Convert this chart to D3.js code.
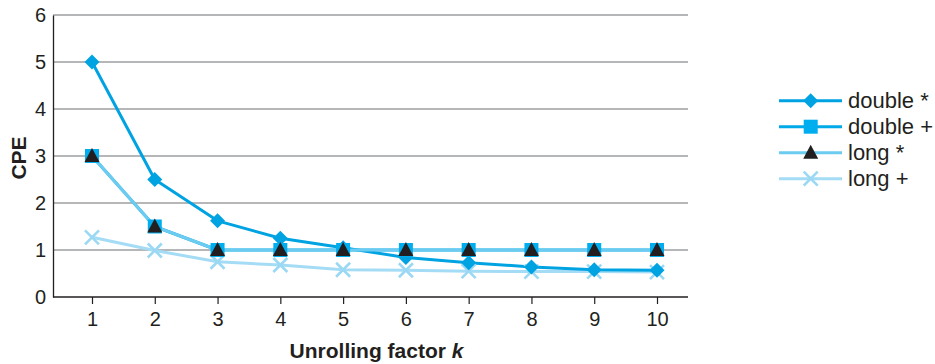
<!DOCTYPE html>
<html><head><meta charset="utf-8">
<script src="https://cdn.jsdelivr.net/npm/d3@7"></script>
<style>body{margin:0;background:#fff}svg{display:block}text{font-family:"Liberation Sans",Arial,sans-serif;fill:#231f20}</style>
</head><body><svg id="c" width="935" height="364"></svg>
<script>
const categories = [1,2,3,4,5,6,7,8,9,10];
const doubleMul = [5.0, 2.5, 1.62, 1.25, 1.05, 0.84, 0.73, 0.64, 0.58, 0.57];
const doubleAdd = [3.0, 1.5, 1.0, 1.0, 1.0, 1.0, 1.0, 1.0, 1.0, 1.0];
const longMul   = [3.0, 1.5, 1.0, 1.0, 1.0, 1.0, 1.0, 1.0, 1.0, 1.0];
const longAdd   = [1.27, 0.99, 0.75, 0.68, 0.58, 0.57, 0.55, 0.54, 0.54, 0.53];
const yTicks = [0,1,2,3,4,5,6];
const seriesNames = ["double *","double +","long *","long +"];

const series = [
  {name:seriesNames[0], values:doubleMul, line:"#00a3e2", marker:"diamond", mcolor:"#00a3e2"},
  {name:seriesNames[1], values:doubleAdd, line:"#00a9e8", marker:"square", mcolor:"#00aeef"},
  {name:seriesNames[2], values:longMul, line:"#6ccbf0", marker:"triangle", mcolor:"#231f20"},
  {name:seriesNames[3], values:longAdd, line:"#a5dcf5", marker:"cross", mcolor:"#9ad8f4"}
];

const svg = d3.select("#c");
const pL = 53, pR = 688, pT = 15, pB = 297;
const x = d3.scaleLinear().domain([1,10]).range([92,657]);
const y = d3.scaleLinear().domain([0,6]).range([pB, pT]);
const FONT = "Liberation Sans, Arial, sans-serif";

// gridlines
svg.append("g").selectAll("line").data(yTicks.filter(d=>d>0)).join("line")
  .attr("x1", pL).attr("x2", pR).attr("y1", d=>y(d)).attr("y2", d=>y(d))
  .attr("stroke", "#6d6e70").attr("stroke-width", 1);

// y axis
const ya = svg.append("g").attr("transform", `translate(${pL},0)`)
  .call(d3.axisLeft(y).tickValues(yTicks).tickSize(0).tickPadding(7).tickFormat(d3.format("d")));
ya.select(".domain").attr("stroke","#231f20").attr("stroke-width",1.3);
ya.selectAll("text").attr("font-size", 20).style("font-family",FONT).attr("fill","#231f20");

// x axis
svg.append("line").attr("x1", pL).attr("x2", pR).attr("y1", pB).attr("y2", pB)
  .attr("stroke","#231f20").attr("stroke-width",1.3);
const xa = svg.append("g").attr("transform", `translate(0,${pB})`)
  .call(d3.axisBottom(x).tickValues(categories).tickSize(7).tickPadding(8).tickFormat(d3.format("d")));
xa.select(".domain").remove();
xa.selectAll(".tick line").attr("stroke","#231f20").attr("stroke-width",1.2);
xa.selectAll("text").attr("font-size", 20).style("font-family",FONT).attr("fill","#231f20");

// titles
svg.append("text").attr("transform", `translate(25.5,158) rotate(-90)`).attr("text-anchor","middle")
  .attr("font-size",21).attr("font-weight","bold").text("CPE");
const xt = svg.append("text").attr("x", 376.5).attr("y", 358).attr("text-anchor","middle")
  .attr("font-size",21).attr("font-weight","bold");
xt.append("tspan").text("Unrolling factor ");
xt.append("tspan").attr("font-style","italic").text("k");

function drawMarker(g, type, color, cx, cy) {
  if (type === "diamond") {
    g.append("path").attr("d", `M${cx},${cy-7.5}L${cx+7.5},${cy}L${cx},${cy+7.5}L${cx-7.5},${cy}Z`)
      .attr("fill", color);
  } else if (type === "square") {
    g.append("rect").attr("x", cx-7).attr("y", cy-7).attr("width", 14).attr("height", 14).attr("fill", color);
  } else if (type === "triangle") {
    g.append("path").attr("d", `M${cx},${cy-8}L${cx+7.5},${cy+6}L${cx-7.5},${cy+6}Z`).attr("fill", color);
  } else {
    g.append("path").attr("d", `M${cx-7},${cy-7}L${cx+7},${cy+7}M${cx+7},${cy-7}L${cx-7},${cy+7}`)
      .attr("stroke", color).attr("stroke-width", 2.6).attr("fill","none");
  }
}

const line = d3.line().x((d,i)=>x(categories[i])).y(d=>y(d));
const order = [3,0,1,2];
order.forEach(si => {
  const s = series[si];
  svg.append("path").datum(s.values).attr("d", line).attr("fill","none")
    .attr("stroke", s.line).attr("stroke-width", 3).attr("stroke-linejoin","round");
});
order.forEach(si => {
  const s = series[si];
  const g = svg.append("g");
  s.values.forEach((v,i) => drawMarker(g, s.marker, s.mcolor, x(categories[i]), y(v)));
});

// legend
const lg = svg.append("g");
series.forEach((s,i) => {
  const ly = 100.7 + i*26;
  lg.append("line").attr("x1", 779).attr("x2", 842).attr("y1", ly).attr("y2", ly)
    .attr("stroke", s.line).attr("stroke-width", 3);
  drawMarker(lg, s.marker, s.mcolor, 810.7, ly);
  lg.append("text").attr("x", 848).attr("y", ly).attr("dy","0.35em").attr("font-size",22).text(s.name);
});
</script></body></html>
